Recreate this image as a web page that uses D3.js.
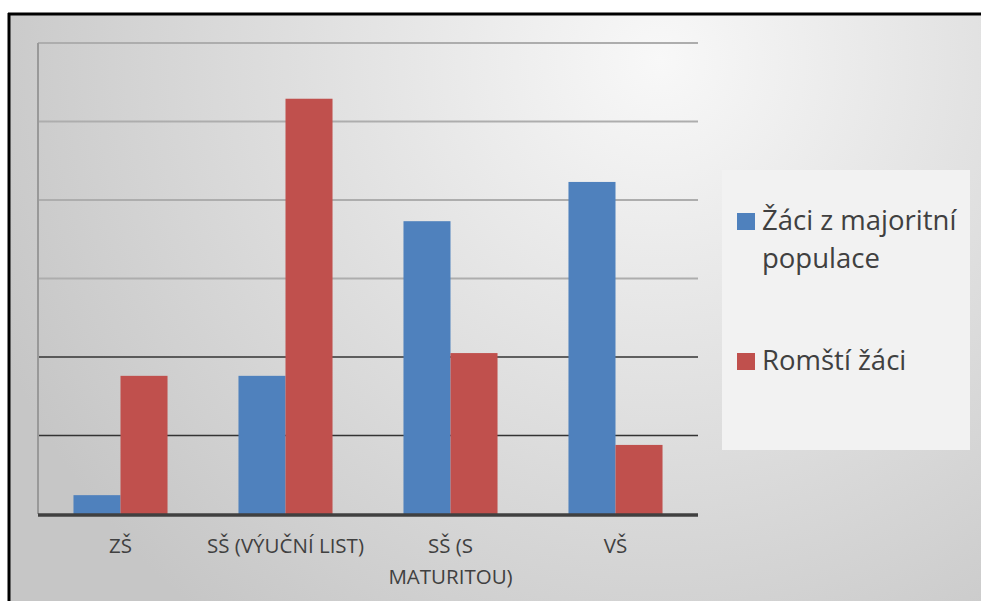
<!DOCTYPE html>
<html>
<head>
<meta charset="utf-8">
<script src="https://cdn.jsdelivr.net/npm/d3@7"></script>
<style>
  body { margin: 0; background: #fff; }
  text { font-family: "Open Sans", sans-serif; }
</style>
</head>
<body>
<div id="chart"></div>
<script>
var categories = ["ZŠ", "SŠ (VÝUČNÍ LIST)", "SŠ (S MATURITOU)", "VŠ"]
var labelLines = [["ZŠ"], ["SŠ (VÝUČNÍ LIST)"], ["SŠ (S", "MATURITOU)"], ["VŠ"]]
var seriesNames = ["Žáci z majoritní populace", "Romští žáci"]
var majority = [2.4, 17.6, 37.3, 42.3]
var roma = [17.6, 52.9, 20.5, 8.8]
var yTicks = [0, 10, 20, 30, 40, 50, 60]

var W = 981, H = 601
var margin = { top: 43, left: 38, right: 283, bottom: 87 },
   width = W - margin.left - margin.right,
   height = H - margin.top - margin.bottom

var svg = d3.select("#chart")
  .append("svg")
  .attr("width", W)
  .attr("height", H)

var defs = svg.append("defs")
var grad = defs.append("radialGradient")
  .attr("id", "bg")
  .attr("gradientUnits", "userSpaceOnUse")
  .attr("cx", 660).attr("cy", 60).attr("r", 720)
grad.append("stop").attr("offset", "0%").attr("stop-color", "#f8f8f8")
grad.append("stop").attr("offset", "100%").attr("stop-color", "#c6c6c6")

// chart frame
svg.append("rect")
  .attr("x", 9).attr("y", 14)
  .attr("width", W).attr("height", H)
  .attr("fill", "url(#bg)")
svg.append("line")
  .attr("x1", 8).attr("x2", W).attr("y1", 14).attr("y2", 14)
  .style("stroke", "#000").style("stroke-width", 3)
svg.append("line")
  .attr("x1", 9).attr("x2", 9).attr("y1", 13).attr("y2", H)
  .style("stroke", "#000").style("stroke-width", 3)

var g = svg.append("g")
  .attr("transform", "translate(" + margin.left + "," + margin.top + ")")

var x = d3.scaleBand()
  .domain(categories)
  .range([0, width])
  .paddingInner(0.43)
  .paddingOuter(0.215)

var x1 = d3.scaleBand()
  .domain([0, 1])
  .range([0, x.bandwidth()])

var y = d3.scaleLinear()
  .domain([0, 60])
  .range([height, 0])

var color = d3.scaleOrdinal()
  .domain([0, 1])
  .range(["#4f81bd", "#c0504d"])

// gridlines
g.selectAll(".grid")
  .data(yTicks.filter(function(d) { return d > 0 }))
  .enter().append("line")
  .attr("class", "grid")
  .attr("x1", 0).attr("x2", width)
  .attr("y1", function(d) { return y(d) }).attr("y2", function(d) { return y(d) })
  .style("stroke", function(d) { return d <= 20 ? "#333" : "#adadad" })
  .style("stroke-width", function(d) { return d <= 20 ? 1.5 : 2 })

g.append("line")
  .attr("x1", 0).attr("x2", 0)
  .attr("y1", 0).attr("y2", height)
  .style("stroke", "#999").style("stroke-width", 2)

var rows = categories.map(function(c, i) { return { cat: c, vals: [majority[i], roma[i]] } })

var groups = g.selectAll(".group")
  .data(rows)
  .enter().append("g")
  .attr("class", "group")
  .attr("transform", function(d) { return "translate(" + x(d.cat) + ",0)" })

groups.selectAll("rect")
  .data(function(d) { return d.vals.map(function(v, k) { return { k: k, v: v } }) })
  .enter().append("rect")
  .attr("x", function(d) { return x1(d.k) })
  .attr("width", x1.bandwidth())
  .attr("y", function(d) { return y(d.v) })
  .attr("height", function(d) { return height - y(d.v) })
  .attr("fill", function(d) { return color(d.k) })

// baseline
g.append("line")
  .attr("x1", 0).attr("x2", width)
  .attr("y1", height + 1).attr("y2", height + 1)
  .style("stroke", "#404040").style("stroke-width", 3.5)

// category labels
var lab = g.selectAll(".cat")
  .data(categories)
  .enter().append("text")
  .attr("class", "cat")
  .attr("text-anchor", "middle")
  .attr("x", function(d) { return x(d) + x.bandwidth() / 2 })
  .attr("y", height + 39)
  .style("font-size", "20.5px")
  .style("fill", "#404040")
lab.selectAll("tspan")
  .data(function(d, i) { return labelLines[i] })
  .enter().append("tspan")
  .attr("x", function() { var p = d3.select(this.parentNode); return p.attr("x") })
  .attr("dy", function(d, i) { return i === 0 ? 0 : 31 })
  .text(function(d) { return d })

// legend
var leg = svg.append("g").attr("transform", "translate(722,170)")
leg.append("rect")
  .attr("width", 248).attr("height", 280)
  .attr("fill", "#f2f2f2")

var legItems = [
  { k: 0, lines: ["Žáci z majoritní", "populace"], y: 60 },
  { k: 1, lines: ["Romští žáci"], y: 200 }
]
legItems.forEach(function(it) {
  leg.append("rect")
    .attr("x", 15).attr("y", it.y - 17).attr("width", 18).attr("height", 17)
    .attr("fill", color(it.k))
  var t = leg.append("text")
    .attr("x", 40).attr("y", it.y)
    .style("font-size", "27.5px")
    .style("fill", "#404040")
  t.selectAll("tspan")
    .data(it.lines)
    .enter().append("tspan")
    .attr("x", 40)
    .attr("dy", function(d, i) { return i === 0 ? 0 : 38 })
    .text(function(d) { return d })
})
</script>
</body>
</html>
